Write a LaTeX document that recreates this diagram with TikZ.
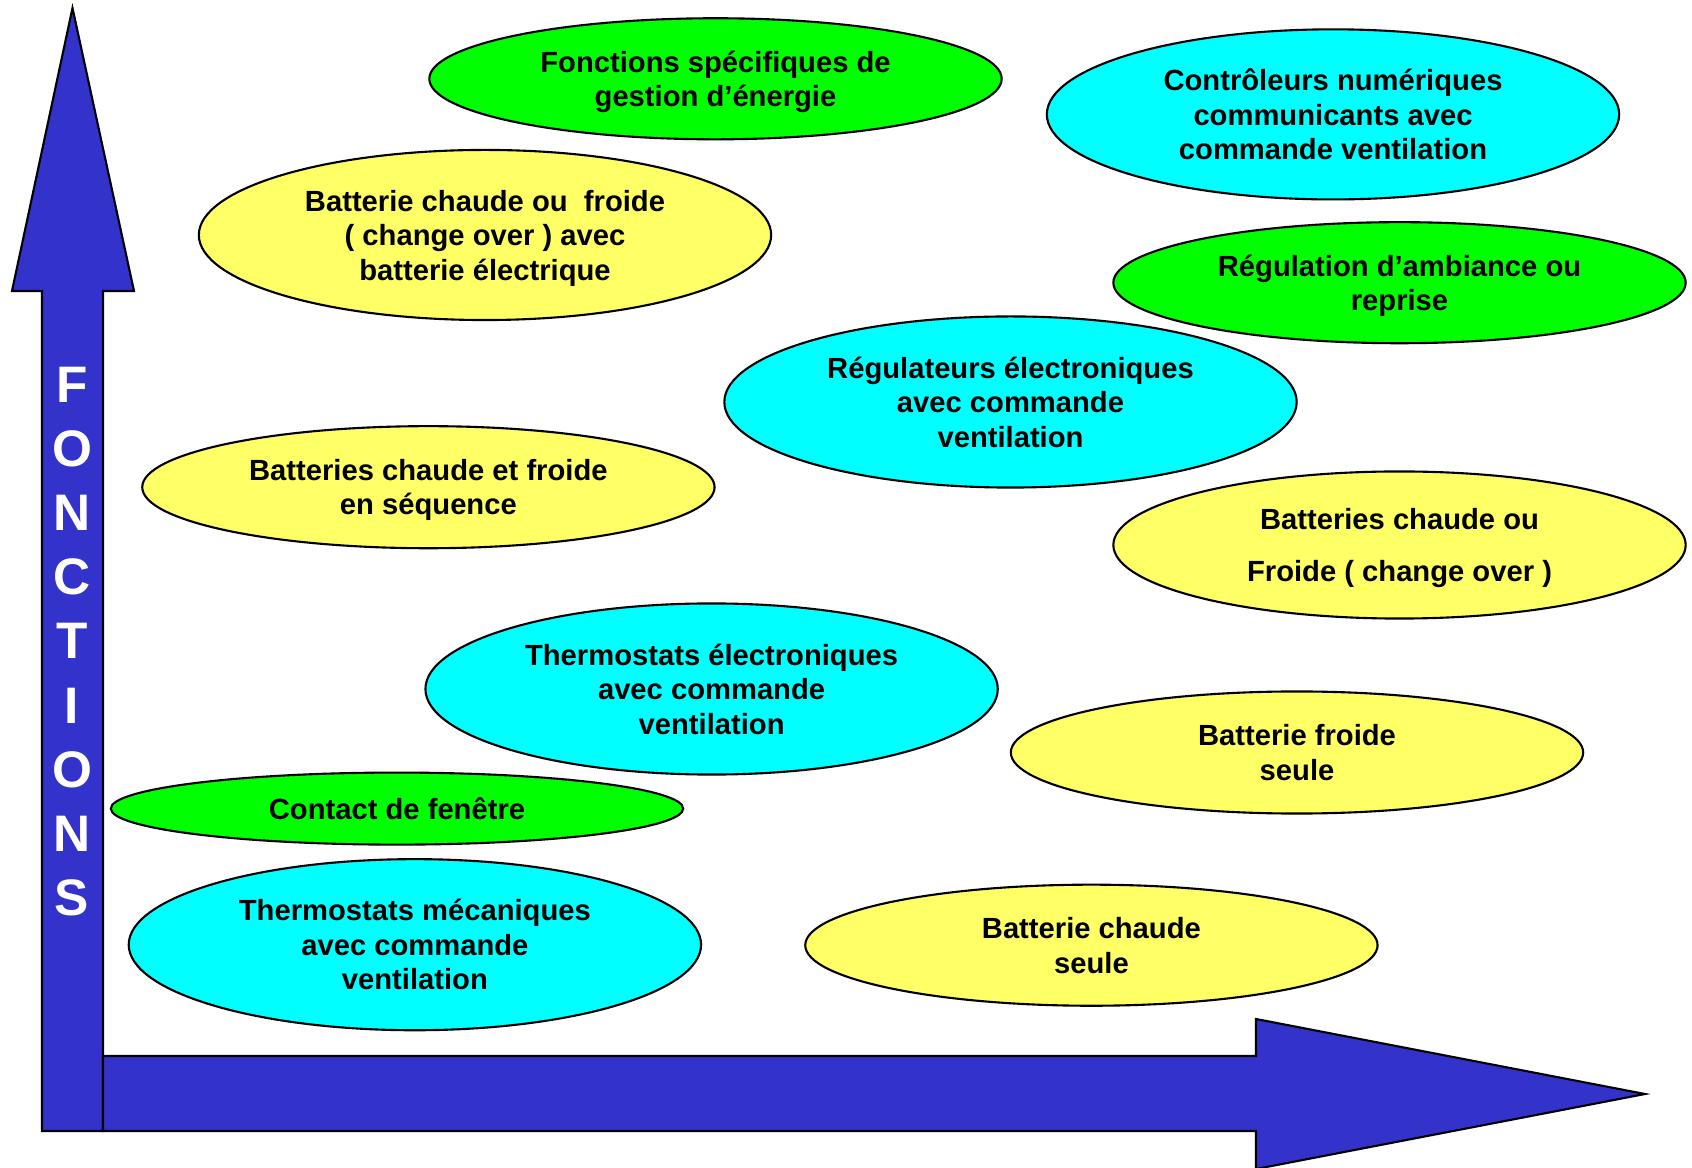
\documentclass[tikz,border=0pt]{standalone}
\usepackage{fontspec}
\setmainfont{Liberation Sans}
\usetikzlibrary{shapes.geometric}

\definecolor{axisblue}{RGB}{51,51,204}
\definecolor{palegreen}{RGB}{0,255,0}
\definecolor{palecyan}{RGB}{0,255,255}
\definecolor{paleyellow}{RGB}{255,255,102}

\tikzset{
    bubble/.style={ellipse, draw=black, line width=0.6pt, inner sep=0pt, align=center, text depth=0pt,
        minimum width=5.72cm, font=\bfseries\fontsize{8.3}{9.8}\selectfont},
    axis/.style={fill=axisblue, draw=black, line width=0.6pt, line join=miter},
}

\begin{document}
\begin{tikzpicture}[x=0.01cm, y=-0.01cm]
        \useasboundingbox (0,0) rectangle (1692,1168);

        \draw[axis] (42,1131) -- (42,291) -- (12,291) -- (72.5,8) -- (134,291) -- (103,291) -- (103,1131) -- cycle; %vertical
        \draw[axis] (103,1056) -- (1256,1056) -- (1256,1019) -- (1645,1094) -- (1256,1169) -- (1256,1131) -- (103,1131) -- cycle; %horizontal

        \node[text=white, align=center, inner sep=0pt, font=\bfseries\fontsize{14.6}{18.23}\selectfont] (fonctions) at (72,641.5) {F\\O\\N\\C\\T\\I\\O\\N\\S};

        \node[bubble, fill=palegreen, minimum height=1.21cm] (gestion) at (715.5,78.8) {Fonctions spécifiques de\\gestion d’énergie}; %green
        \node[bubble, fill=palecyan, minimum height=1.70cm] (numeriques) at (1333,114.4) {Contrôleurs numériques\\communicants avec\\commande ventilation}; %cyan
        \node[bubble, fill=paleyellow, minimum height=1.70cm] (electrique) at (485,235) {Batterie chaude ou\ \ froide\\( change over ) avec\\batterie électrique}; %yellow
        \node[bubble, fill=palegreen, minimum height=1.21cm] (ambiance) at (1399.5,282.7) {Régulation d’ambiance ou\\reprise}; %green
        \node[bubble, fill=palecyan, minimum height=1.71cm] (regulateurs) at (1010.5,402) {Régulateurs électroniques\\avec commande\\ventilation}; %cyan
        \node[bubble, fill=paleyellow, minimum height=1.22cm] (sequence) at (428.4,487.2) {Batteries chaude et froide\\en séquence}; %yellow
        \node[bubble, fill=paleyellow, minimum height=1.47cm] (changeover) at (1399.5,545) {Batteries chaude ou\\[5.2pt]Froide ( change over )}; %yellow
        \node[bubble, fill=palecyan, minimum height=1.71cm] (electroniques) at (711.6,689) {Thermostats électroniques\\avec commande\\ventilation}; %cyan
        \node[bubble, fill=paleyellow, minimum height=1.22cm] (froide) at (1297,752.5) {Batterie froide\\seule}; %yellow
        \node[bubble, fill=palegreen, minimum height=0.72cm] (fenetre) at (397,808.6) {Contact de fenêtre}; %green
        \node[bubble, fill=palecyan, minimum height=1.71cm] (mecaniques) at (414.9,944.7) {Thermostats mécaniques\\avec commande\\ventilation}; %cyan
        \node[bubble, fill=paleyellow, minimum height=1.21cm] (chaude) at (1091.4,945.2) {Batterie chaude\\seule}; %yellow
    \end{tikzpicture}
\end{document}
